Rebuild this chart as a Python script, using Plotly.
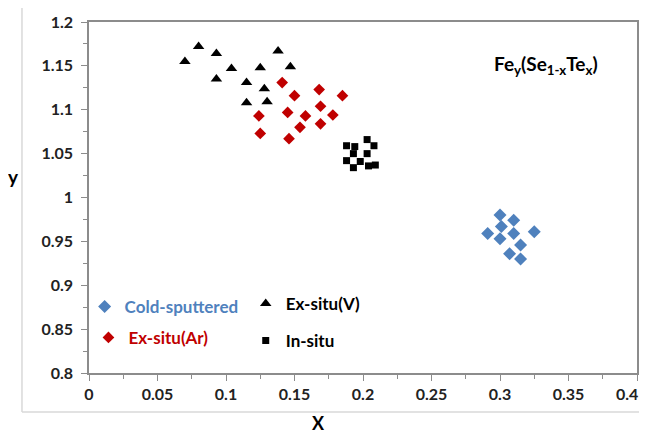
import plotly.graph_objects as go

# Cold-sputtered
cold_x = [0.300, 0.310, 0.301, 0.291, 0.310, 0.325, 0.300, 0.315, 0.307, 0.315]
cold_y = [0.980, 0.974, 0.967, 0.959, 0.959, 0.961, 0.953, 0.946, 0.936, 0.930]

# Ex-situ(Ar)
ar_x = [0.141, 0.150, 0.168, 0.185, 0.169, 0.178, 0.158, 0.145, 0.124, 0.169, 0.154, 0.125, 0.146]
ar_y = [1.131, 1.116, 1.123, 1.116, 1.104, 1.094, 1.093, 1.097, 1.093, 1.084, 1.080, 1.073, 1.067]

# Ex-situ(V)
v_x = [0.070, 0.080, 0.093, 0.104, 0.093, 0.115, 0.125, 0.138, 0.147, 0.128, 0.115, 0.130]
v_y = [1.155, 1.172, 1.164, 1.147, 1.135, 1.131, 1.148, 1.167, 1.149, 1.124, 1.108, 1.109]

# In-situ
in_x = [0.188, 0.194, 0.203, 0.208, 0.203, 0.193, 0.188, 0.198, 0.193, 0.204, 0.209]
in_y = [1.059, 1.058, 1.066, 1.059, 1.050, 1.050, 1.042, 1.041, 1.034, 1.036, 1.037]

# x tick labels
x_tickvals = [0, 0.05, 0.1, 0.15, 0.2, 0.25, 0.3, 0.35, 0.4]
x_ticktext = ["0", "0.05", "0.1", "0.15", "0.2", "0.25", "0.3", "0.35", ""]
x_last_label = "0.4"

BLUE = "#4F81BD"
RED = "#C00000"
FONT = "Lato"
TICKCOL = "#222222"

fig = go.Figure()
fig.add_trace(go.Scatter(x=cold_x, y=cold_y, mode="markers", name="Cold-sputtered",
                         marker=dict(symbol="diamond", size=10, color=BLUE), legend="legend"))
fig.add_trace(go.Scatter(x=ar_x, y=ar_y, mode="markers", name="Ex-situ(Ar)",
                         marker=dict(symbol="diamond", size=9, color=RED), legend="legend2"))
fig.add_trace(go.Scatter(x=v_x, y=v_y, mode="markers", name="Ex-situ(V)",
                         marker=dict(symbol="triangle-up", size=10, color="black"), legend="legend3"))
fig.add_trace(go.Scatter(x=in_x, y=in_y, mode="markers", name="In-situ",
                         marker=dict(symbol="square", size=7, color="black"), legend="legend4"))

def leg(x, y, color):
    return dict(x=x, y=y, xanchor="left", yanchor="middle", bgcolor="rgba(0,0,0,0)",
                font=dict(family=FONT, size=17, color=color, weight="bold"), itemwidth=30)

axis_common = dict(showline=True, linecolor="#8c8c8c", linewidth=1.5, mirror=True,
                   showgrid=False, zeroline=False, ticks="outside", ticklen=6,
                   tickcolor="#8c8c8c", tickwidth=1, ticklabeloverflow="allow",
                   tickfont=dict(family=FONT, size=16, color=TICKCOL, weight="bold"),
                   minor=dict(dtick=0.025, ticks="outside", ticklen=4, tickcolor="#8c8c8c"))

fig.update_layout(
    width=639, height=426,
    margin=dict(l=81, r=10, t=14, b=61, autoexpand=False),
    paper_bgcolor="white", plot_bgcolor="white",
    showlegend=True,
    legend=leg(-0.008, 0.188, BLUE),
    legend2=leg(-0.001, 0.10, RED),
    legend3=leg(0.286, 0.197, "black"),
    legend4=leg(0.286, 0.091, "black"),
    xaxis=dict(range=[0, 0.4], tickmode="array", tickvals=x_tickvals, ticktext=x_ticktext,
               ticklabelstandoff=0, **axis_common),
    yaxis=dict(range=[0.8, 1.2], dtick=0.05, tick0=0.8, tickformat="~g",
               ticklabelstandoff=5, **axis_common),
    annotations=[
        dict(text="<b>Fe<sub>y</sub>(Se<sub>1-x</sub>Te<sub>x</sub>)</b>", xref="paper", yref="paper",
             x=0.834, y=0.877, xanchor="center", yanchor="middle", showarrow=False,
             font=dict(family=FONT, size=19, color="black")),
        dict(text="<b>y</b>", xref="paper", yref="paper", x=-0.137, y=0.56,
             xanchor="center", yanchor="middle",
             showarrow=False, font=dict(family=FONT, size=19, color="black")),
        dict(text="<b>X</b>", xref="paper", yref="paper", x=0.418, y=-0.142,
             xanchor="center", yanchor="middle",
             showarrow=False, font=dict(family=FONT, size=18, color="black")),
        dict(text="<b>" + x_last_label + "</b>", xref="x", yref="paper", x=x_tickvals[-1],
             y=-0.057, xanchor="right", yanchor="middle", xshift=3, showarrow=False,
             font=dict(family=FONT, size=16, color=TICKCOL)),
    ],
    shapes=[
        dict(type="line", xref="paper", yref="paper", x0=-0.1223, x1=-0.1223, y0=-0.111, y1=1.043,
             line=dict(color="#d9d9d9", width=1.5)),
        dict(type="line", xref="paper", yref="paper", x0=-0.1223, x1=1.02, y0=-0.111, y1=-0.111,
             line=dict(color="#d9d9d9", width=1.5)),
    ],
)

fig.write_html("out.html")
